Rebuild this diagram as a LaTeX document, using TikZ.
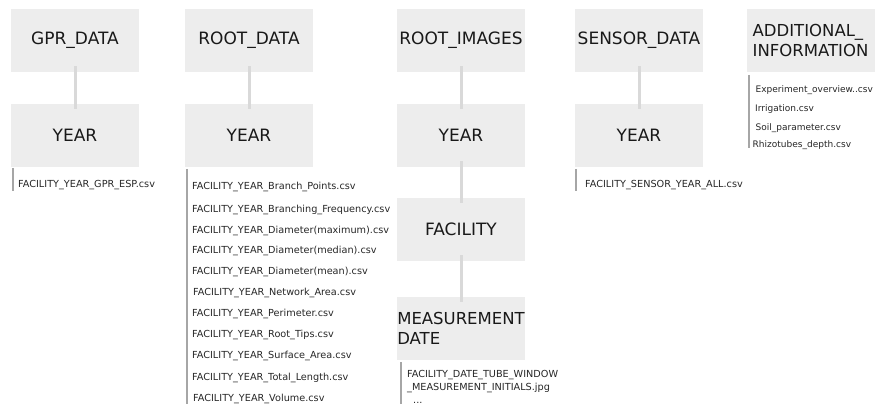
\documentclass[tikz,border=0pt]{standalone}
\usepackage{fontspec}
\setmainfont{DejaVu Sans}
\definecolor{boxgray}{HTML}{EDEDED}
\definecolor{linkgray}{HTML}{D9D9D9}
\definecolor{bargray}{HTML}{A6A6A6}
\tikzset{
  folder/.style={fill=boxgray, minimum width=128pt, minimum height=63pt, inner sep=0pt, font=\fontsize{17}{20.5}\selectfont, text=black!90},
  link/.style={draw=linkgray, line width=3pt, shorten <=-6pt, shorten >=-5pt},
  bar/.style={draw=bargray, line width=2pt},
  file/.style={anchor=base west, inner sep=0pt, font=\fontsize{9.7}{13}\selectfont, text=black!85}
}

\begin{document}
\begin{tikzpicture}[x=1pt, y=-1pt]
\useasboundingbox (0,0) rectangle (875,406);
% Folders
    \node[folder] (gpr) at (75,40.5) {GPR\_DATA};
    \node[folder] (gpryear) at (75,135.5) {YEAR};
    \node[folder] (root) at (249,40.5) {ROOT\_DATA};
    \node[folder] (rootyear) at (249,135.5) {YEAR};
    \node[folder] (images) at (461,40.5) {ROOT\_IMAGES};
    \node[folder] (imagesyear) at (461,135.5) {YEAR};
    \node[folder] (facility) at (461,229.5) {FACILITY};
    \node[folder, align=left, font=\fontsize{16.5}{20}\selectfont] (date) at (461,328.5) {MEASUREMENT\\DATE};
    \node[folder] (sensor) at (639,40.5) {SENSOR\_DATA};
    \node[folder] (sensoryear) at (639,135.5) {YEAR};
    \node[folder, align=left, font=\fontsize{16.5}{20}\selectfont] (additional) at (810.5,40.5) {ADDITIONAL\_\\INFORMATION};
% Links between folders
    \draw[link] (gpr) -- (gpryear);
    \draw[link] (root) -- (rootyear);
    \draw[link] (images) -- (imagesyear);
    \draw[link] (imagesyear) -- (facility);
    \draw[link] (facility) -- (date);
    \draw[link] (sensor) -- (sensoryear);
% File bars
    \draw[bar] (12.5,168) -- (12.5,191);
    \draw[bar] (186.5,169) -- (186.5,404);
    \draw[bar] (401,362) -- (401,404);
    \draw[bar] (576,169) -- (576,191);
    \draw[bar] (748.5,75) -- (748.5,148);
% Files
    \node[file] (gprfile) at (18,187.5) {FACILITY\_YEAR\_GPR\_ESP.csv};
    \node[file] (branchpoints) at (192,189.2) {FACILITY\_YEAR\_Branch\_Points.csv};
    \node[file] (branchfreq) at (192,212.5) {FACILITY\_YEAR\_Branching\_Frequency.csv};
    \node[file] (diammax) at (192,233.5) {FACILITY\_YEAR\_Diameter(maximum).csv};
    \node[file] (diammedian) at (192,253.5) {FACILITY\_YEAR\_Diameter(median).csv};
    \node[file] (diammean) at (192,274.5) {FACILITY\_YEAR\_Diameter(mean).csv};
    \node[file] (network) at (193,295.2) {FACILITY\_YEAR\_Network\_Area.csv};
    \node[file] (perimeter) at (192,316.5) {FACILITY\_YEAR\_Perimeter.csv};
    \node[file] (roottips) at (192,337.5) {FACILITY\_YEAR\_Root\_Tips.csv};
    \node[file] (surface) at (192,358.5) {FACILITY\_YEAR\_Surface\_Area.csv};
    \node[file] (totallength) at (192,380.2) {FACILITY\_YEAR\_Total\_Length.csv};
    \node[file] (volume) at (193,401.5) {FACILITY\_YEAR\_Volume.csv};
    \node[file] (imagefileA) at (407,377.5) {FACILITY\_DATE\_TUBE\_WINDOW};
    \node[file] (imagefileB) at (407,390.5) {\_MEASUREMENT\_INITIALS.jpg};
    \node[file] (imagedots) at (413,403) {...};
    \node[file] (sensorfile) at (585,187.5) {FACILITY\_SENSOR\_YEAR\_ALL.csv};
    \node[file, font=\fontsize{9}{12}\selectfont] (overview) at (755.5,92.3) {Experiment\_overview..csv};
    \node[file, font=\fontsize{9}{12}\selectfont] (irrigation) at (755,111.3) {Irrigation.csv};
    \node[file, font=\fontsize{9}{12}\selectfont] (soil) at (755.5,130.3) {Soil\_parameter.csv};
    \node[file, font=\fontsize{9}{12}\selectfont] (rhizotubes) at (752.5,147.3) {Rhizotubes\_depth.csv};
\end{tikzpicture}
\end{document}
